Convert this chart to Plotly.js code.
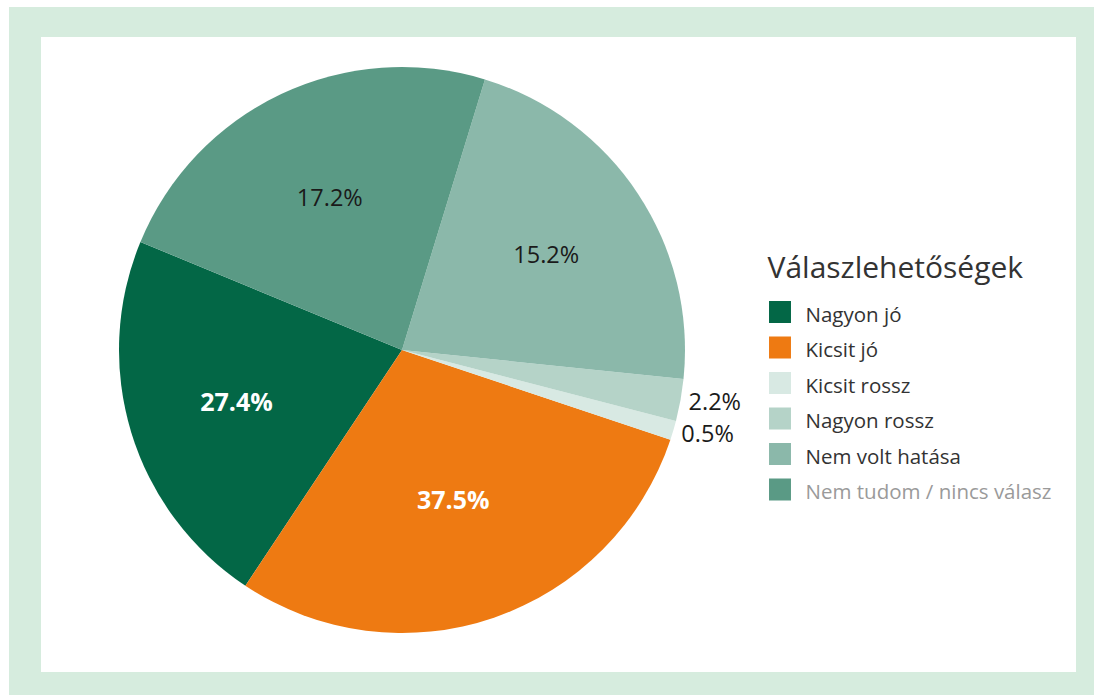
<!DOCTYPE html>
<html>
<head>
<meta charset="utf-8">
<script src="https://cdn.plot.ly/plotly-3.0.1.min.js"></script>
<style>
  html, body { margin: 0; padding: 0; background: #ffffff; width: 1094px; height: 695px; overflow: hidden; }
  #frame { position: absolute; left: 9px; top: 7px; width: 1085px; height: 688px; background: #d6ecde; }
  #chart { position: absolute; left: 32px; top: 30px; width: 1035px; height: 635px; background: #ffffff; }
  #chart path.textline { display: none; }
</style>
</head>
<body>
<div id="frame"><div id="chart"></div></div>
<script>
// Categories (legend order)
const categories = ["Nagyon jó", "Kicsit jó", "Kicsit rossz", "Nagyon rossz", "Nem volt hatása", "Nem tudom / nincs válasz"];
// Slice sizes as drawn in the reference (share of the circle, %)
const sliceValues = [21.9, 29.2, 1.1, 2.4, 21.9, 23.5];
// Percentage labels printed on the slices
const shownLabels = ["27.4%", "37.5%", "0.5%", "2.2%", "15.2%", "17.2%"];
const sliceColors = ["#036746", "#ee7a12", "#d8e9e3", "#b5d3c8", "#8bb8aa", "#5a9a85"];
const legendTitle = "Válaszlehetőségek";

const boldIdx = [0, 1];
const labelText = shownLabels.map((t, i) => boldIdx.includes(i) ? "<b>" + t + "</b>" : t);
const textColors = sliceColors.map((c, i) => boldIdx.includes(i) ? "#ffffff" : "#1a1a1a");
const textSizes = sliceColors.map((c, i) => boldIdx.includes(i) ? 25 : 23.5);
const positions = shownLabels.map((t, i) => sliceValues[i] < 5 ? "outside" : "inside");
const legendLabels = categories.map((c, i) =>
  i === categories.length - 1
    ? '<span style="font-size:20.5px;color:#9a9a9a">' + c + '</span>'
    : '<span style="font-size:20.5px">' + c + '</span>');

const trace = {
  type: "pie",
  labels: legendLabels,
  values: sliceValues,
  text: labelText,
  textinfo: "text",
  texttemplate: "%{text}",
  hoverinfo: "label+text",
  sort: false,
  direction: "counterclockwise",
  rotation: 213.6,
  marker: { colors: sliceColors, line: { width: 0 } },
  textposition: positions,
  insidetextorientation: "horizontal",
  insidetextfont: { family: "Open Sans", size: textSizes, color: textColors },
  outsidetextfont: { family: "Open Sans", size: 23.5, color: "#1a1a1a" },
  domain: { x: [78 / 1035, 644 / 1035], y: [0, 1] }
};

const layout = {
  width: 1035,
  height: 635,
  margin: { l: 0, r: 0, t: 30, b: 39 },
  paper_bgcolor: "#ffffff",
  plot_bgcolor: "#ffffff",
  font: { family: "Open Sans", color: "#333333" },
  showlegend: true,
  legend: {
    x: 0.700, xanchor: "left",
    y: 0.69, yanchor: "top",
    font: { family: "Open Sans", size: 25, color: "#333333" },
    title: { text: '<span style="font-size:30px">' + legendTitle + '</span>', font: { family: "Open Sans", size: 36, color: "#333333" } },
    bgcolor: "rgba(0,0,0,0)",
    traceorder: "normal"
  }
};

Plotly.newPlot("chart", [trace], layout, { displayModeBar: false, staticPlot: true }).then(function () {
  document.querySelectorAll("#chart .legendpoints path").forEach(function (p) {
    p.setAttribute("transform", "translate(14.5,0) scale(1.83)");
  });
  document.querySelectorAll("#chart .legendtitletext").forEach(function (t) {
    t.setAttribute("transform", "translate(0,-11)");
  });
});
</script>
</body>
</html>
